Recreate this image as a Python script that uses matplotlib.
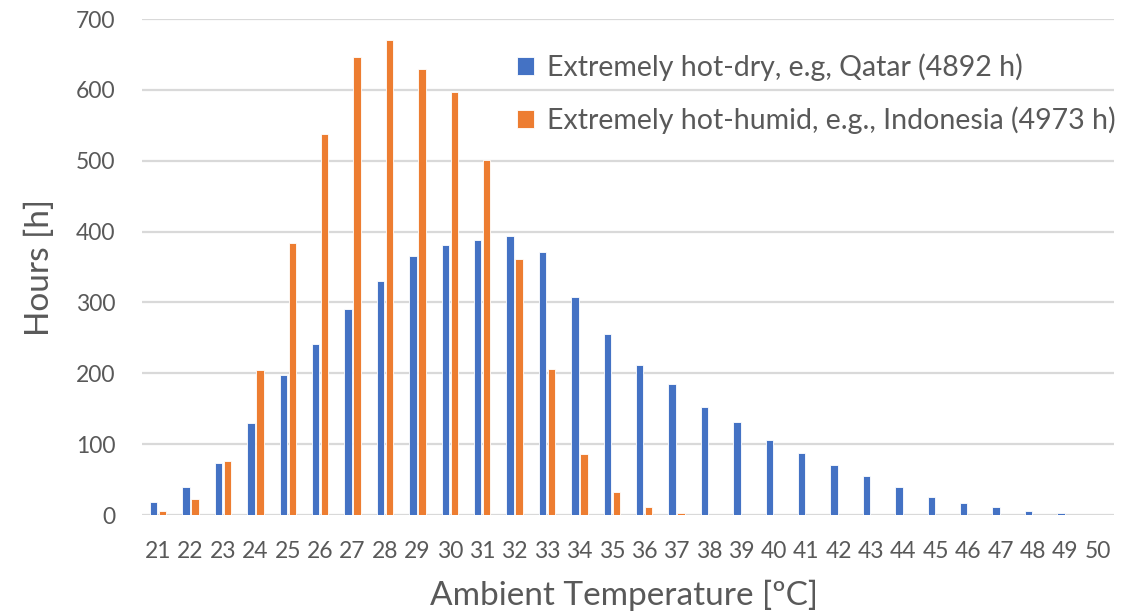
import matplotlib
matplotlib.use("Agg")
import matplotlib.pyplot as plt
import numpy as np

categories = [str(t) for t in range(21, 51)]
hot_dry = [18, 40, 73, 130, 198, 241, 291, 330, 365, 381, 388, 394, 371, 307, 255,
           212, 185, 153, 131, 106, 87, 71, 55, 40, 25, 17, 11, 5, 3, 0]
hot_humid = [5, 22, 76, 205, 384, 537, 646, 671, 630, 597, 501, 361, 206, 86, 32,
             11, 3, 0, 0, 0, 0, 0, 0, 0, 0, 0, 0, 0, 0, 0]
labels = ["Extremely hot-dry, e.g, Qatar (4892 h)",
          "Extremely hot-humid, e.g., Indonesia (4973 h)"]
yticks = [0, 100, 200, 300, 400, 500, 600, 700]

plt.rcParams['font.family'] = ['Lato', 'DejaVu Sans']
TXT = '#595959'
BLUE = '#4472C4'
ORANGE = '#ED7D31'
GRID = '#D9D9D9'

fig = plt.figure(figsize=(11.32, 6.11), dpi=100)
ax = fig.add_axes([142/1132, (611-515)/611, (1114-142)/1132, (515-19)/611])

x = np.arange(len(categories))
w = 0.225
off = 0.14
ax.bar(x - off, hot_dry, width=w, color=BLUE, edgecolor='white', linewidth=0.6,
       label=labels[0], zorder=3)
ax.bar(x + off, hot_humid, width=w, color=ORANGE, edgecolor='white', linewidth=0.6,
       label=labels[1], zorder=3)

ax.set_xlim(-0.5, len(categories) - 0.5)
ax.set_ylim(0, 700)
ax.set_yticks(yticks)
ax.set_xticks(x)
ax.set_xticklabels(categories)
ax.yaxis.grid(True, color=GRID, linewidth=1.6, zorder=0)
ax.set_axisbelow(True)
for s in ax.spines.values():
    s.set_visible(False)
ax.tick_params(axis='both', length=0, colors=TXT, labelsize=16.5)
ax.tick_params(axis='x', pad=19)
ax.tick_params(axis='y', pad=19)

ax.set_ylabel("Hours [h]", fontsize=24, color=TXT)
ax.yaxis.set_label_coords(-0.0895, 0.5)
ax.set_xlabel("Ambient Temperature [ºC]", fontsize=24, color=TXT)
ax.xaxis.set_label_coords(0.4954, -0.13)

leg = ax.legend(loc='upper left', bbox_to_anchor=(517/1132, 1 - 53/611),
                bbox_transform=fig.transFigure, frameon=False, fontsize=20.5,
                handlelength=0.6, handleheight=0.6, handletextpad=0.45,
                labelspacing=0.9, borderpad=0, borderaxespad=0)
for t in leg.get_texts():
    t.set_color(TXT)

fig.savefig("out.png", dpi=100, facecolor='white')
